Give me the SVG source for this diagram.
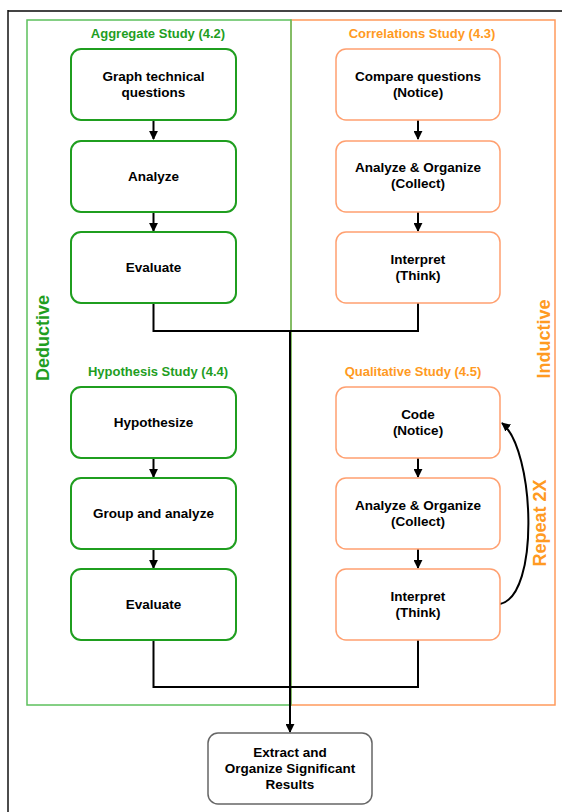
<svg xmlns="http://www.w3.org/2000/svg" width="562" height="812" viewBox="0 0 562 812">
  <defs>
    <marker id="arrow" viewBox="0 0 10 10" refX="9" refY="5" markerWidth="9" markerHeight="9" markerUnits="userSpaceOnUse" orient="auto">
      <path d="M0,0 L10,5 L0,10 z" fill="#000"/>
    </marker>
    <style>
      .frame-top { stroke: #444; stroke-width: 2; fill: none; }
      .frame-left { stroke: #111; stroke-width: 1.5; fill: none; }
      .region-green { stroke: #5cc05c; stroke-width: 1.5; fill: none; }
      .region-orange { stroke: #ff9a5c; stroke-width: 1.5; fill: none; }
      .node-green rect { fill: #fff; stroke: #1f9e1f; stroke-width: 2; }
      .node-orange rect { fill: #fff; stroke: #ffa070; stroke-width: 1.5; }
      .node-gray rect { fill: #fff; stroke: #666; stroke-width: 1.5; }
      .label { font-family: "Liberation Sans", Arial, sans-serif; font-weight: bold; font-size: 13.5px; fill: #000; text-anchor: middle; }
      .title { font-family: "Liberation Sans", Arial, sans-serif; font-weight: bold; font-size: 13px; text-anchor: middle; }
      .side { font-family: "Liberation Sans", Arial, sans-serif; font-weight: bold; font-size: 18px; text-anchor: middle; }
      .g { fill: #1f9e1f; }
      .o { fill: #ff9a22; }
      .conn { stroke: #000; stroke-width: 2; fill: none; }
    </style>
  </defs>

  <rect width="562" height="812" fill="#fff"/>

  <!-- page frame -->
  <line class="frame-top" x1="8" y1="11" x2="562" y2="11"/>
  <line class="frame-left" x1="8" y1="10" x2="8" y2="812"/>

  <!-- study regions -->
  <rect class="region-orange" x="291" y="20" width="264" height="685"/>
  <rect class="region-green" x="27" y="20" width="264" height="685"/>

  <!-- region titles -->
  <text class="title g" x="158" y="38">Aggregate Study (4.2)</text>
  <text class="title o" x="422" y="38">Correlations Study (4.3)</text>
  <text class="title g" x="158" y="376">Hypothesis Study (4.4)</text>
  <text class="title o" x="413" y="376">Qualitative Study (4.5)</text>

  <!-- side labels -->
  <text class="side g" transform="translate(49,338) rotate(-90)">Deductive</text>
  <text class="side o" transform="translate(550,339) rotate(-90)">Inductive</text>
  <text class="side o" transform="translate(546,523) rotate(-90)">Repeat 2X</text>

  <!-- connectors -->
  <g id="connectors">
    <line class="conn" x1="153.5" y1="120" x2="153.5" y2="139" marker-end="url(#arrow)"/>
    <line class="conn" x1="153.5" y1="212" x2="153.5" y2="231" marker-end="url(#arrow)"/>
    <line class="conn" x1="418" y1="120" x2="418" y2="139" marker-end="url(#arrow)"/>
    <line class="conn" x1="418" y1="212" x2="418" y2="231" marker-end="url(#arrow)"/>
    <line class="conn" x1="153.5" y1="458" x2="153.5" y2="477" marker-end="url(#arrow)"/>
    <line class="conn" x1="153.5" y1="549" x2="153.5" y2="568" marker-end="url(#arrow)"/>
    <line class="conn" x1="418" y1="458" x2="418" y2="477" marker-end="url(#arrow)"/>
    <line class="conn" x1="418" y1="549" x2="418" y2="568" marker-end="url(#arrow)"/>
    <!-- merge of the upper studies -->
    <polyline class="conn" points="153.5,303 153.5,331 418,331 418,303"/>
    <!-- merge of the lower studies -->
    <polyline class="conn" points="153.5,640 153.5,687 418,687 418,640"/>
    <!-- trunk to results -->
    <line class="conn" x1="290" y1="331" x2="290" y2="732" marker-end="url(#arrow)"/>
    <!-- repeat loop -->
    <path class="conn" d="M500,604 C540,596 535,450 502,423" marker-end="url(#arrow)"/>
  </g>

  <!-- deductive nodes -->
  <g id="graph-technical" class="node-green">
    <rect x="71" y="49" width="165" height="71" rx="10"/>
    <text class="label" x="153.5" y="81">Graph technical</text>
    <text class="label" x="153.5" y="97">questions</text>
  </g>
  <g id="analyze" class="node-green">
    <rect x="71" y="141" width="165" height="71" rx="10"/>
    <text class="label" x="153.5" y="181">Analyze</text>
  </g>
  <g id="evaluate-aggregate" class="node-green">
    <rect x="71" y="232" width="165" height="71" rx="10"/>
    <text class="label" x="153.5" y="272">Evaluate</text>
  </g>
  <g id="hypothesize" class="node-green">
    <rect x="71" y="387" width="165" height="71" rx="10"/>
    <text class="label" x="153.5" y="427">Hypothesize</text>
  </g>
  <g id="group-analyze" class="node-green">
    <rect x="71" y="478" width="165" height="71" rx="10"/>
    <text class="label" x="153.5" y="518">Group and analyze</text>
  </g>
  <g id="evaluate-hypothesis" class="node-green">
    <rect x="71" y="569" width="165" height="71" rx="10"/>
    <text class="label" x="153.5" y="609">Evaluate</text>
  </g>

  <!-- inductive nodes -->
  <g id="compare-questions" class="node-orange">
    <rect x="336" y="49" width="164" height="71" rx="10"/>
    <text class="label" x="418" y="81">Compare questions</text>
    <text class="label" x="418" y="97">(Notice)</text>
  </g>
  <g id="analyze-organize-corr" class="node-orange">
    <rect x="336" y="141" width="164" height="71" rx="10"/>
    <text class="label" x="418" y="172">Analyze &amp; Organize</text>
    <text class="label" x="418" y="188">(Collect)</text>
  </g>
  <g id="interpret-corr" class="node-orange">
    <rect x="336" y="232" width="164" height="71" rx="10"/>
    <text class="label" x="418" y="264">Interpret</text>
    <text class="label" x="418" y="280">(Think)</text>
  </g>
  <g id="code" class="node-orange">
    <rect x="336" y="387" width="164" height="71" rx="10"/>
    <text class="label" x="418" y="419">Code</text>
    <text class="label" x="418" y="435">(Notice)</text>
  </g>
  <g id="analyze-organize-qual" class="node-orange">
    <rect x="336" y="478" width="164" height="71" rx="10"/>
    <text class="label" x="418" y="510">Analyze &amp; Organize</text>
    <text class="label" x="418" y="526">(Collect)</text>
  </g>
  <g id="interpret-qual" class="node-orange">
    <rect x="336" y="569" width="164" height="71" rx="10"/>
    <text class="label" x="418" y="601">Interpret</text>
    <text class="label" x="418" y="617">(Think)</text>
  </g>

  <!-- final result -->
  <g id="extract-results" class="node-gray">
    <rect x="208" y="733" width="164" height="71" rx="10"/>
    <text class="label" x="290" y="757">Extract and</text>
    <text class="label" x="290" y="773">Organize Significant</text>
    <text class="label" x="290" y="789">Results</text>
  </g>
</svg>
